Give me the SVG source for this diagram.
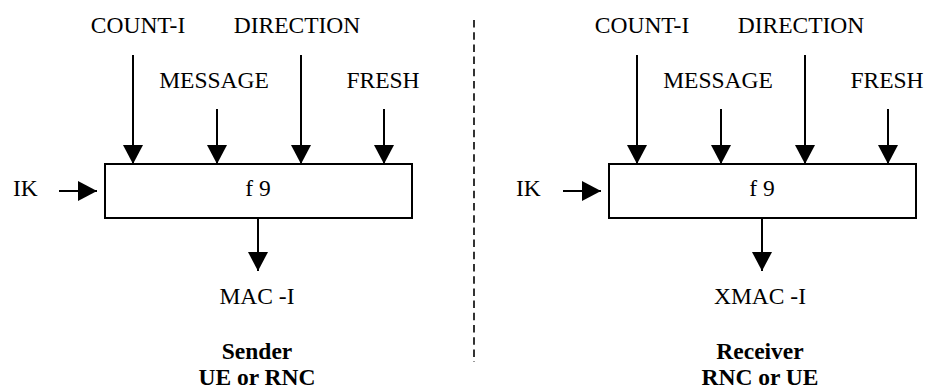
<svg xmlns="http://www.w3.org/2000/svg" width="926" height="390" viewBox="0 0 926 390">
<style>
text{font-size:23.5px;fill:#000}
.c{text-anchor:middle}
.b{font-weight:bold}
.box{fill:#fff;stroke:#000;stroke-width:2}
.ln{stroke:#000;stroke-width:2;fill:none}
.dash{stroke:#000;stroke-width:1.6;stroke-dasharray:7.5 4.7;fill:none}
</style>
<defs>
<marker id="ah" viewBox="0 0 19 20" refX="19" refY="10" markerWidth="19" markerHeight="20" markerUnits="userSpaceOnUse" orient="auto">
<path d="M0,0 L19,10 L0,20 z" fill="#000"/>
</marker>
</defs>
<rect width="926" height="390" fill="#fff"/>
<g id="connectors">
<path class="ln" d="M133,55 V164" marker-end="url(#ah)"/>
<path class="ln" d="M217,109 V164" marker-end="url(#ah)"/>
<path class="ln" d="M301,55 V164" marker-end="url(#ah)"/>
<path class="ln" d="M384,109 V164" marker-end="url(#ah)"/>
<path class="ln" d="M59,191 H97" marker-end="url(#ah)"/>
<path class="ln" d="M258,218 V271" marker-end="url(#ah)"/>
<path class="ln" d="M637,55 V164" marker-end="url(#ah)"/>
<path class="ln" d="M721,109 V164" marker-end="url(#ah)"/>
<path class="ln" d="M805,55 V164" marker-end="url(#ah)"/>
<path class="ln" d="M888,109 V164" marker-end="url(#ah)"/>
<path class="ln" d="M563,191 H601" marker-end="url(#ah)"/>
<path class="ln" d="M762,218 V271" marker-end="url(#ah)"/>
<path class="dash" d="M474,20 V362"/>
</g>
<g font-family="Liberation Serif, Tinos, Times New Roman, DejaVu Serif, serif">
<g id="sender-f9"><rect class="box" x="105" y="164" width="307" height="54"/><text class="c" x="258" y="196">f 9</text></g>
<g id="sender-count"><text class="c" x="138" y="33">COUNT-I</text></g>
<g id="sender-direction"><text class="c" x="297" y="33">DIRECTION</text></g>
<g id="sender-message"><text class="c" x="214" y="88">MESSAGE</text></g>
<g id="sender-fresh"><text class="c" x="383" y="88">FRESH</text></g>
<g id="sender-ik"><text x="13" y="196">IK</text></g>
<g id="sender-mac"><text class="c" x="257" y="304">MAC -I</text></g>
<g id="sender-label"><text class="c b" x="257" y="359">Sender</text><text class="c b" x="257" y="385">UE or RNC</text></g>
<g id="receiver-f9"><rect class="box" x="609" y="164" width="307" height="54"/><text class="c" x="762" y="196">f 9</text></g>
<g id="receiver-count"><text class="c" x="642" y="33">COUNT-I</text></g>
<g id="receiver-direction"><text class="c" x="801" y="33">DIRECTION</text></g>
<g id="receiver-message"><text class="c" x="718" y="88">MESSAGE</text></g>
<g id="receiver-fresh"><text class="c" x="887" y="88">FRESH</text></g>
<g id="receiver-ik"><text x="516" y="196">IK</text></g>
<g id="receiver-xmac"><text class="c" x="760" y="304">XMAC -I</text></g>
<g id="receiver-label"><text class="c b" x="760" y="359">Receiver</text><text class="c b" x="760" y="385">RNC or UE</text></g>
</g>
</svg>
